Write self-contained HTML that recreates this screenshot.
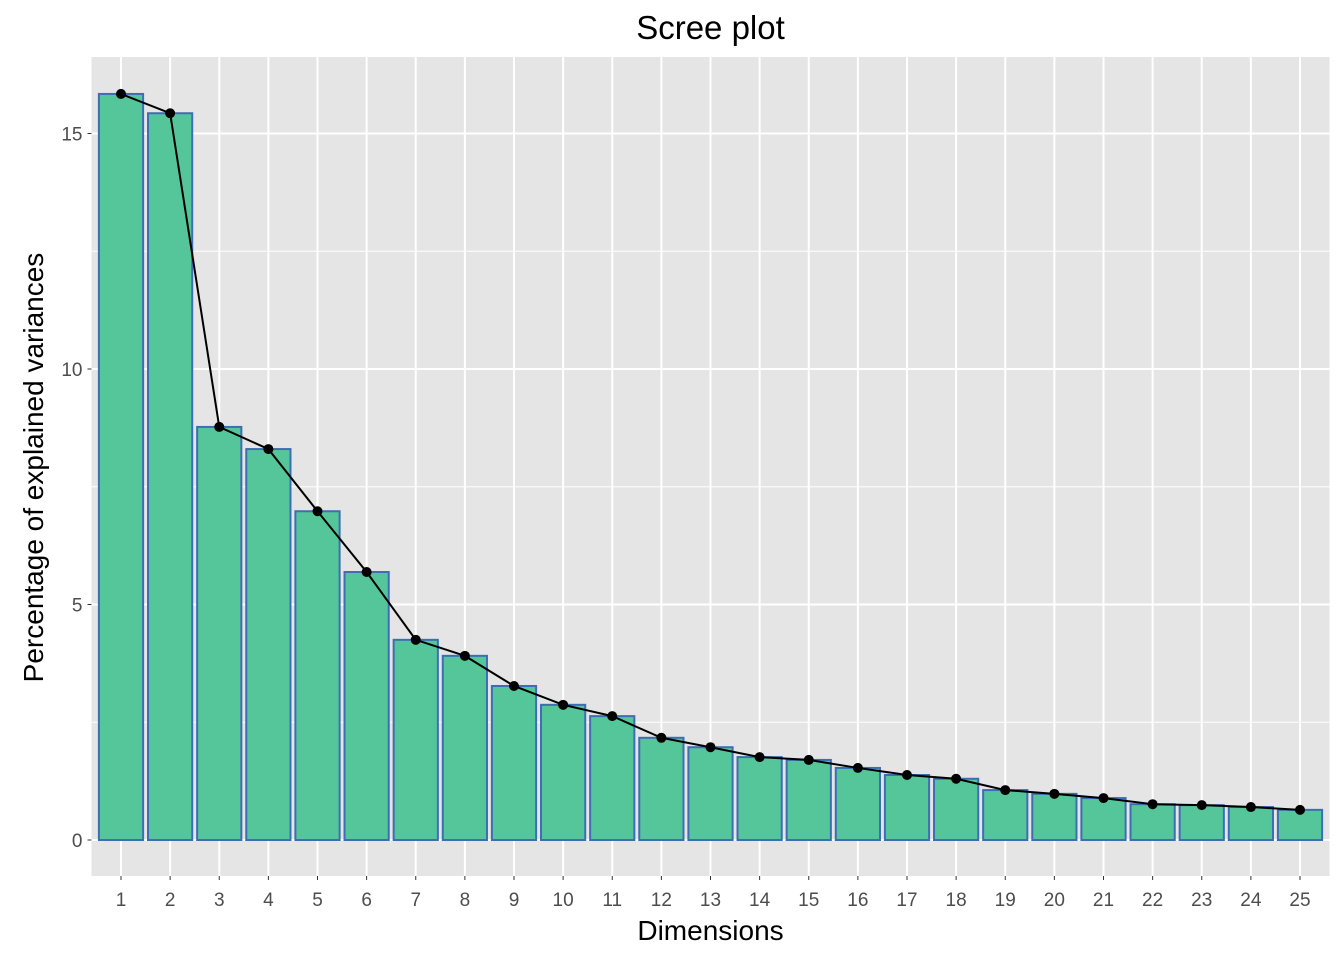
<!DOCTYPE html>
<html><head><meta charset="utf-8"><style>
body{margin:0;background:#fff;}
svg{display:block;font-family:"Liberation Sans",Arial,sans-serif;}
</style></head><body>
<svg id="chart" width="1344" height="960"></svg>
<script>
const categories=["1","2","3","4","5","6","7","8","9","10","11","12","13","14","15","16","17","18","19","20","21","22","23","24","25"];
const variances=[15.84,15.43,8.77,8.30,6.98,5.69,4.25,3.91,3.27,2.87,2.63,2.17,1.97,1.76,1.70,1.53,1.38,1.30,1.06,0.98,0.89,0.76,0.74,0.70,0.64];
const yTicks=[0,5,10,15];
const yMinor=[2.5,7.5,12.5];

const NS="http://www.w3.org/2000/svg";
const svg=document.getElementById('chart');
const PL=91.5,PR=1329.5,PT=57,PB=876;
const x0=121,dx=49.125;
function xs(i){return x0+i*dx;}
function ys(v){return 840-v*47.1;}
function mk(t,a,p){const e=document.createElementNS(NS,t);for(const k in a)e.setAttribute(k,a[k]);(p||svg).appendChild(e);return e;}

const panel=mk('rect',{x:PL,y:PT,width:PR-PL,height:PB-PT,fill:'#e5e5e5'});


yMinor.forEach(v=>{const l=mk('line',{x1:PL,x2:PR,y1:ys(v),y2:ys(v),stroke:'#fff','stroke-width':1});

});
yTicks.forEach(v=>{const l=mk('line',{x1:PL,x2:PR,y1:ys(v),y2:ys(v),stroke:'#fff','stroke-width':2});


mk('line',{x1:PL-4,x2:PL,y1:ys(v),y2:ys(v),stroke:'#333','stroke-width':1});
const t=mk('text',{x:PL-9,y:ys(v)+7,'text-anchor':'end','font-size':19,fill:'#4d4d4d'});t.textContent=v;

});
categories.forEach((c,i)=>{const l=mk('line',{x1:xs(i),x2:xs(i),y1:PT,y2:PB,stroke:'#fff','stroke-width':2});


mk('line',{x1:xs(i),x2:xs(i),y1:PB,y2:PB+4,stroke:'#333','stroke-width':1});
const t=mk('text',{x:xs(i),y:PB+30,'text-anchor':'middle','font-size':19,fill:'#4d4d4d'});t.textContent=c;

});
const bw=dx*0.9;
variances.forEach((v,i)=>{const b=mk('rect',{x:xs(i)-bw/2,y:ys(v),width:bw,height:ys(0)-ys(v),fill:'#55c699',stroke:'#3d6db5','stroke-width':2});

});
const line=mk('polyline',{points:variances.map((v,i)=>xs(i)+','+ys(v)).join(' '),fill:'none',stroke:'#000','stroke-width':2});


variances.forEach((v,i)=>{const p=mk('circle',{cx:xs(i),cy:ys(v),r:5,fill:'#000'});

});
const title=mk('text',{x:(PL+PR)/2,y:39,'text-anchor':'middle','font-size':33,fill:'#000'});title.textContent='Scree plot';


const xt=mk('text',{x:(PL+PR)/2,y:940,'text-anchor':'middle','font-size':28,fill:'#000'});xt.textContent='Dimensions';


const yt=mk('text',{x:0,y:0,'text-anchor':'middle','font-size':28,fill:'#000',transform:'translate(43,'+((PT+PB)/2+1)+') rotate(-90)'});yt.textContent='Percentage of explained variances';


</script>
</body></html>
